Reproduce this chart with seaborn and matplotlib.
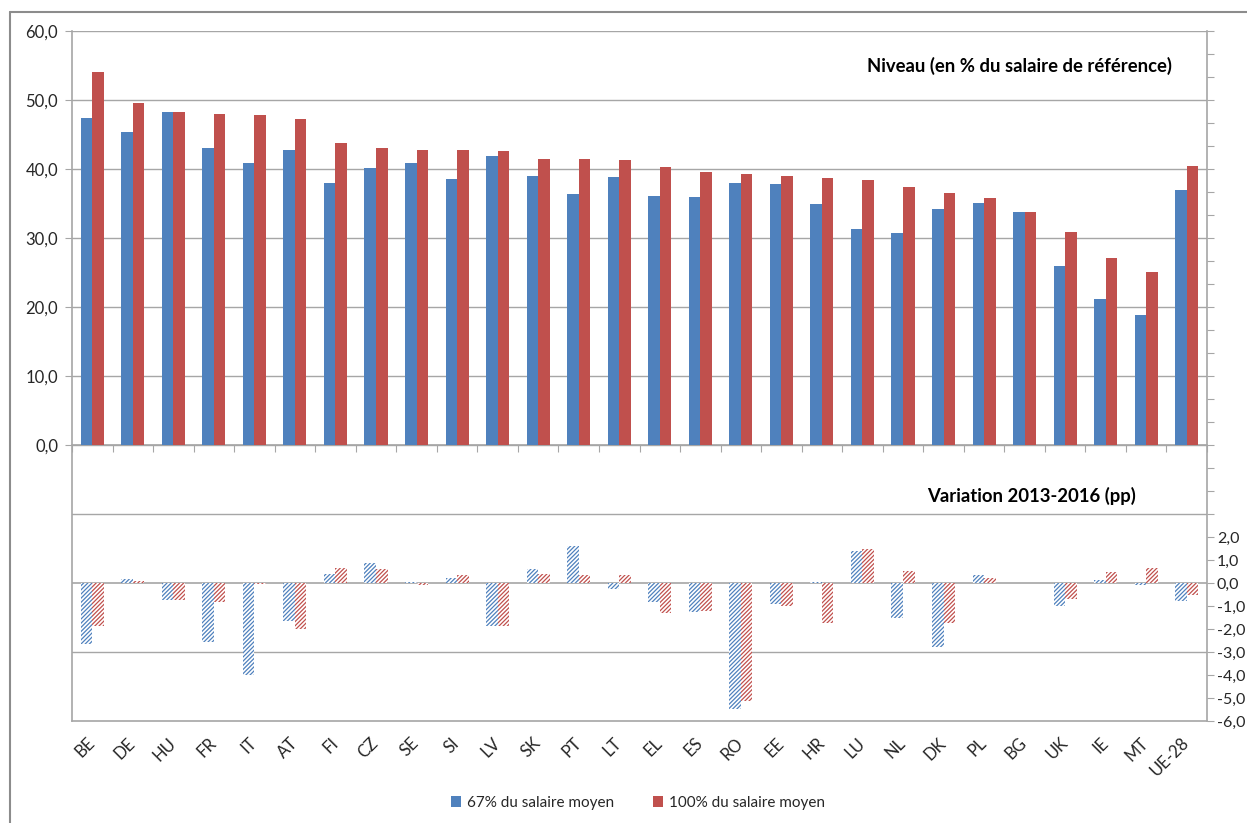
import numpy as np
import pandas as pd
import matplotlib
matplotlib.use("Agg")
import matplotlib.pyplot as plt
import seaborn as sns
from matplotlib.patches import Patch
from matplotlib.lines import Line2D


# -----------------------
# Data
# -----------------------
countries = ["BE", "DE", "HU", "FR", "IT", "AT", "FI", "CZ", "SE", "SI",
             "LV", "SK", "PT", "LT", "EL", "ES", "RO", "EE", "HR", "LU",
             "NL", "DK", "PL", "BG", "UK", "IE", "MT", "UE-28"]

level_67 = [47.4, 45.3, 48.3, 43.0, 40.8, 42.8, 37.9, 40.1, 40.8, 38.6,
            41.9, 39.0, 36.4, 38.9, 36.1, 35.9, 38.0, 37.8, 35.0, 31.3,
            30.7, 34.2, 35.1, 33.7, 25.9, 21.2, 18.8, 36.9]
level_100 = [54.0, 49.5, 48.3, 48.0, 47.8, 47.2, 43.7, 43.0, 42.8, 42.7,
             42.6, 41.5, 41.5, 41.3, 40.3, 39.5, 39.3, 39.0, 38.7, 38.4,
             37.4, 36.5, 35.8, 33.7, 30.8, 27.1, 25.1, 40.5]

var_67 = [-2.66, 0.17, -0.76, -2.55, -3.99, -1.67, 0.38, 0.87, 0.04, 0.23,
          -1.85, 0.60, 1.59, -0.26, -0.84, -1.28, -5.46, -0.92, 0.04, 1.38,
          -1.51, -2.77, 0.35, -0.02, -1.00, 0.13, -0.09, -0.80]
var_100 = [-1.85, 0.09, -0.76, -0.84, -0.03, -1.98, 0.67, 0.60, -0.09, 0.35,
           -1.89, 0.38, 0.33, 0.35, -1.31, -1.21, -5.14, -0.98, -1.73, 1.46,
           0.52, -1.76, 0.23, -0.02, -0.71, 0.49, 0.67, -0.52]

series = ["67% du salaire moyen", "100% du salaire moyen"]
colors = ["#4F81BD", "#C0504D"]

level_ticks = [0, 10, 20, 30, 40, 50, 60]
var_ticks = [-6, -5, -4, -3, -2, -1, 0, 1, 2]


# -----------------------
# Long tables
# -----------------------
levels = pd.DataFrame({
    "pays": countries * 2,
    "serie": [series[0]] * len(countries) + [series[1]] * len(countries),
    "valeur": level_67 + level_100,
})
variations = pd.DataFrame({
    "pays": countries * 2,
    "serie": [series[0]] * len(countries) + [series[1]] * len(countries),
    "valeur": var_67 + var_100,
})


# -----------------------
# Style
# -----------------------
sns.set_style("white")
plt.rcParams["font.family"] = ["Lato", "DejaVu Sans"]
plt.rcParams["hatch.linewidth"] = 0.9
grid_color = "#A6A6A6"
text_color = "#262626"

fig = plt.figure(figsize=(12.47, 8.23), dpi=100)
ax = fig.add_axes([72 / 1247, 102 / 823, 1135 / 1247, 690 / 823])
ax2 = ax.twinx()


# -----------------------
# Bars
# -----------------------
sns.barplot(
    data=levels, x="pays", y="valeur", hue="serie",
    order=countries, hue_order=series, palette=colors,
    width=0.57, gap=0, linewidth=0, saturation=1,
    legend=False, ax=ax
)

sns.barplot(
    data=variations, x="pays", y="valeur", hue="serie",
    order=countries, hue_order=series, palette=colors,
    width=0.57, gap=0, linewidth=0, saturation=1,
    legend=False, ax=ax2
)

for i, container in enumerate(ax2.containers):
    for bar in container:
        bar.set_facecolor("white")
        bar.set_edgecolor(colors[i])
        bar.set_hatch("////////")
        bar.set_linewidth(0)


# -----------------------
# Axes
# -----------------------
ax.set_xlim(-0.5, len(countries) - 0.5)
ax2.set_xlim(-0.5, len(countries) - 0.5)
ax.set_ylim(-40, 60)
ax2.set_ylim(-6, 24)

ax.set_yticks(level_ticks)
ax.set_yticklabels([f"{v:.1f}".replace(".", ",") for v in level_ticks],
                   fontsize=12, color=text_color)
ax.tick_params(axis="y", length=5, direction="out", color=grid_color, pad=5)
ax.yaxis.grid(True, color=grid_color, linewidth=1)
ax.set_axisbelow(True)
for g in [-10, -30]:
    ax.axhline(g, color=grid_color, linewidth=1, zorder=0)

ax.set_xticks(range(len(countries)))
ax.set_xticklabels(countries, rotation=45, ha="right", va="center",
                   rotation_mode="anchor", fontsize=12, color=text_color)
ax.tick_params(axis="x", length=0, pad=14)
ax.set_xlabel("")
ax.set_ylabel("")

for side in ["top", "right"]:
    ax.spines[side].set_visible(False)
for side in ["left", "bottom"]:
    ax.spines[side].set_color(grid_color)
    ax.spines[side].set_linewidth(1.2)

# category axis at level zero
cat_axis = ax.secondary_xaxis(0.4)
cat_axis.set_xticks(np.arange(-0.5, len(countries), 1))
cat_axis.set_xticklabels([])
cat_axis.tick_params(axis="x", length=5, direction="out", color=grid_color)
cat_axis.spines["bottom"].set_color(grid_color)
cat_axis.spines["bottom"].set_linewidth(1.2)

ax2.set_yticks(range(-6, 25))
ax2.set_yticklabels([f"{v:.1f}".replace(".", ",") if v in var_ticks else ""
                     for v in range(-6, 25)], fontsize=11.5, color=text_color)
ax2.tick_params(axis="y", length=5, direction="out", color=grid_color, pad=2)
ax2.axhline(0, color=grid_color, linewidth=1.2, zorder=0)
ax2.set_ylabel("")
ax2.set_xlabel("")
for side in ["top", "left", "bottom"]:
    ax2.spines[side].set_visible(False)
ax2.spines["right"].set_color(grid_color)
ax2.spines["right"].set_linewidth(1.2)


# -----------------------
# Titles
# -----------------------
fig.text(1019 / 1247, 1 - 66 / 823, "Niveau (en % du salaire de référence)",
         ha="center", va="center", fontsize=13.3, fontweight="bold", color="black")
fig.text(1031 / 1247, 1 - 496 / 823, "Variation 2013-2016 (pp)",
         ha="center", va="center", fontsize=13.3, fontweight="bold", color="black")


# -----------------------
# Legend
# -----------------------
handles = [Patch(facecolor=c, edgecolor="none") for c in colors]
fig.legend(handles, series, loc="center", ncol=2,
           bbox_to_anchor=(638 / 1247, 1 - 803 / 823), frameon=False,
           fontsize=11, handlelength=0.7, handleheight=0.7,
           handletextpad=0.4, columnspacing=2.5, labelcolor=text_color)


# -----------------------
# Chart frame
# -----------------------
fig.add_artist(Line2D([10 / 1247, 1], [1 - 12 / 823, 1 - 12 / 823],
                      color="#8C8C8C", linewidth=1.5))
fig.add_artist(Line2D([10 / 1247, 10 / 1247], [0, 1 - 12 / 823],
                      color="#8C8C8C", linewidth=1.5))

plt.savefig("out.png", dpi=100)
